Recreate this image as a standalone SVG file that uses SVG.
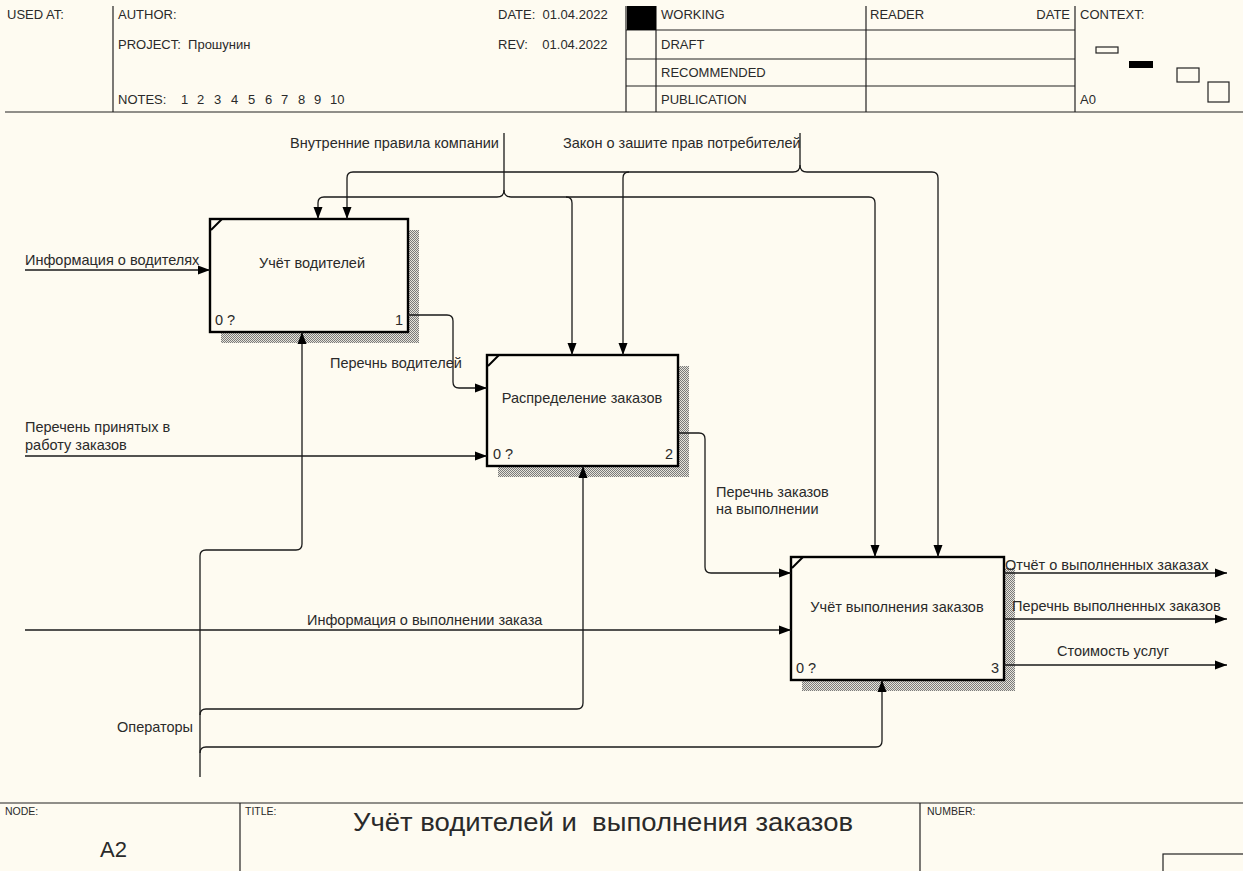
<svg xmlns="http://www.w3.org/2000/svg" width="1243" height="871" viewBox="0 0 1243 871">
<defs>
<style>
.t{font-family:"Liberation Sans",Arial,sans-serif;fill:#2a2a2a;white-space:pre}
.h{font-size:13px}
.l{font-size:14.5px}
.ln{stroke:#1a1a1a;stroke-width:1.3;fill:none}
.arr{marker-end:url(#ah)}
.box{fill:#fefbf1;stroke:#000;stroke-width:2.4}
.fr{stroke:#222;stroke-width:1.2;fill:none}
</style>
<pattern id="hatch" width="2" height="2" patternUnits="userSpaceOnUse">
<rect width="2" height="2" fill="#e6e3da"/>
<rect width="1" height="1" fill="#7a7a7a"/>
<rect x="1" y="1" width="1" height="1" fill="#7a7a7a"/>
</pattern>
<marker id="ah" markerUnits="userSpaceOnUse" markerWidth="12" markerHeight="10" refX="12" refY="5" orient="auto">
<path d="M0,0.5 L12,5 L0,9.5 z" fill="#000"/>
</marker>
</defs>
<rect width="1243" height="871" fill="#fefbf1"/>

<g id="header">
<line class="fr" x1="113" y1="6" x2="113" y2="112"/>
<line class="fr" x1="626" y1="6" x2="626" y2="112"/>
<line class="fr" x1="656" y1="6" x2="656" y2="112"/>
<line class="fr" x1="866" y1="6" x2="866" y2="112"/>
<line class="fr" x1="1075" y1="6" x2="1075" y2="112"/>
<line class="fr" x1="626" y1="30" x2="1075" y2="30"/>
<line class="fr" x1="626" y1="59" x2="1075" y2="59"/>
<line class="fr" x1="626" y1="86" x2="1075" y2="86"/>
<line class="fr" x1="5" y1="112" x2="1243" y2="112"/>
<rect x="627" y="6" width="29" height="24" fill="#000"/>
<text class="t h" x="7" y="19">USED AT:</text>
<text class="t h" x="118" y="19">AUTHOR:</text>
<text class="t h" x="118" y="49">PROJECT:  Прошунин</text>
<text class="t h" y="104"><tspan x="118">NOTES:</tspan><tspan x="181">1</tspan><tspan x="197">2</tspan><tspan x="214">3</tspan><tspan x="231">4</tspan><tspan x="248">5</tspan><tspan x="265">6</tspan><tspan x="281">7</tspan><tspan x="298">8</tspan><tspan x="314">9</tspan><tspan x="330">10</tspan></text>
<text class="t h" x="498" y="19">DATE:  01.04.2022</text>
<text class="t h" x="498" y="49">REV:    01.04.2022</text>
<text class="t h" x="661" y="19">WORKING</text>
<text class="t h" x="661" y="49">DRAFT</text>
<text class="t h" x="661" y="77">RECOMMENDED</text>
<text class="t h" x="661" y="104">PUBLICATION</text>
<text class="t h" x="870" y="19">READER</text>
<text class="t h" x="1070" y="19" text-anchor="end">DATE</text>
<text class="t h" x="1080" y="19">CONTEXT:</text>
<text class="t h" x="1080" y="104">A0</text>
<rect x="1096" y="47" width="22" height="6" class="fr"/>
<rect x="1129" y="61" width="24" height="7" fill="#000"/>
<rect x="1177" y="68" width="22" height="14" class="fr"/>
<rect x="1208" y="82" width="21" height="20" class="fr"/>
</g>

<g id="node1">
<rect x="221" y="230" width="198" height="113" fill="url(#hatch)"/>
<rect class="box" x="210" y="219" width="198" height="113"/>
<line x1="211" y1="230" x2="222" y2="219" stroke="#000" stroke-width="2"/>
<text class="t l" x="312" y="268" text-anchor="middle">Учёт водителей</text>
<text class="t l" x="215" y="325">0 ?</text>
<text class="t l" x="403" y="325" text-anchor="end">1</text>
</g>

<g id="node2">
<rect x="498" y="366" width="191" height="111" fill="url(#hatch)"/>
<rect class="box" x="487" y="355" width="191" height="111"/>
<line x1="488" y1="366" x2="499" y2="355" stroke="#000" stroke-width="2"/>
<text class="t l" x="582" y="403" text-anchor="middle">Распределение заказов</text>
<text class="t l" x="493" y="459">0 ?</text>
<text class="t l" x="673" y="459" text-anchor="end">2</text>
</g>

<g id="node3">
<rect x="802" y="568" width="213" height="123" fill="url(#hatch)"/>
<rect class="box" x="791" y="557" width="213" height="123"/>
<line x1="792" y1="568" x2="803" y2="557" stroke="#000" stroke-width="2"/>
<text class="t l" x="897" y="612" text-anchor="middle">Учёт выполнения заказов</text>
<text class="t l" x="796" y="673">0 ?</text>
<text class="t l" x="999" y="673" text-anchor="end">3</text>
</g>

<g id="connectors">
<path class="ln arr" d="M25,270 H210"/>
<path class="ln arr" d="M408,315 H447 Q453,315 453,321 V382 Q453,388 459,388 H487"/>
<path class="ln arr" d="M25,456 H487"/>
<path class="ln arr" d="M678,433 H699 Q705,433 705,439 V567 Q705,573 711,573 H791"/>
<path class="ln arr" d="M25,630 H791"/>
<path class="ln arr" d="M1004,573 H1227"/>
<path class="ln arr" d="M1004,619 H1227"/>
<path class="ln arr" d="M1004,665 H1227"/>
<path class="ln" d="M504,133 V190"/>
<path class="ln arr" d="M504,190 Q504,197 497,197 H324 Q318,197 318,203 V219"/>
<path class="ln arr" d="M504,190 Q504,197 511,197 H566 Q572,197 572,203 V355"/>
<path class="ln arr" d="M566,197 H869 Q875,197 875,203 V557"/>
<path class="ln" d="M800,133 V165"/>
<path class="ln arr" d="M800,165 Q800,172 793,172 H353 Q347,172 347,178 V219"/>
<path class="ln arr" d="M800,165 Q800,172 807,172 H932 Q938,172 938,178 V557"/>
<path class="ln arr" d="M629,172 Q623,172 623,178 V355"/>
<path class="ln arr" d="M200,777 V556 Q200,550 206,550 H296 Q302,550 302,544 V332"/>
<path class="ln arr" d="M200,715 Q200,709 206,709 H577 Q583,709 583,703 V466"/>
<path class="ln arr" d="M200,753 Q200,747 206,747 H876 Q882,747 882,741 V680"/>
<text class="t l" x="25" y="265">Информация о водителях</text>
<text class="t l" x="330" y="368">Перечнь водителей</text>
<text class="t l" x="25" y="432">Перечень принятых в</text>
<text class="t l" x="25" y="450">работу заказов</text>
<text class="t l" x="716" y="497">Перечнь заказов</text>
<text class="t l" x="716" y="514">на выполнении</text>
<text class="t l" x="307" y="625">Информация о выполнении заказа</text>
<text class="t l" x="117" y="732">Операторы</text>
<text class="t l" x="1005" y="570">Отчёт о выполненных заказах</text>
<text class="t l" x="1012" y="611">Перечнь выполненных заказов</text>
<text class="t l" x="1057" y="656">Стоимость услуг</text>
<text class="t l" x="290" y="148">Внутренние правила компании</text>
<text class="t l" x="563" y="148">Закон о зашите прав потребителей</text>
</g>

<g id="footer">
<line class="fr" x1="0" y1="803" x2="1243" y2="803"/>
<line class="fr" x1="240" y1="803" x2="240" y2="871"/>
<line class="fr" x1="920" y1="803" x2="920" y2="871"/>
<text class="t" x="5" y="815" font-size="10.5">NODE:</text>
<text class="t" x="245" y="815" font-size="10.5">TITLE:</text>
<text class="t" x="927" y="815" font-size="10.5">NUMBER:</text>
<text class="t" x="100" y="857" font-size="22">A2</text>
<text class="t" x="353" y="831" font-size="25" textLength="500" lengthAdjust="spacingAndGlyphs">Учёт водителей и  выполнения заказов</text>
<rect x="1163" y="854" width="85" height="22" class="fr"/>
</g>
</svg>
